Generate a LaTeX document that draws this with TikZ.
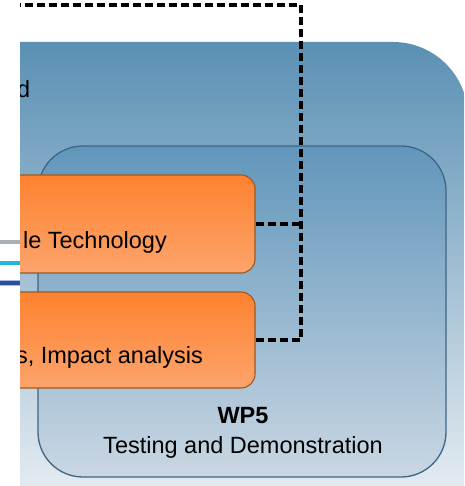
\documentclass[tikz,border=0pt]{standalone}
\usepackage{fontspec}
\setmainfont{Liberation Sans}
\usetikzlibrary{positioning}
\definecolor{wptop}{HTML}{5A90B4}
\definecolor{wpbottom}{HTML}{F4F6F8}
\definecolor{wpinnertop}{HTML}{6196BB}
\definecolor{wpinnerbottom}{HTML}{CAD7E3}
\definecolor{wpedge}{HTML}{3F6584}
\definecolor{tasktop}{HTML}{FE822F}
\definecolor{taskbottom}{HTML}{FDA46C}
\definecolor{taskedge}{HTML}{9A5A20}
\definecolor{linkgrey}{HTML}{A9B0B5}
\definecolor{linkcyan}{HTML}{22B5E0}
\definecolor{linkblue}{HTML}{2B4EA0}

\begin{document}
\begin{tikzpicture}[
    x=1pt, y=-1pt,
    outerbox/.style={rounded corners=75pt, top color=wptop, bottom color=wpbottom, minimum width=528pt, minimum height=500pt, inner sep=0pt},
    wpbox/.style={draw=wpedge, line width=1.3pt, rounded corners=45pt, top color=wpinnertop, bottom color=wpinnerbottom, minimum width=408pt, minimum height=331pt, inner sep=0pt},
    task/.style={draw=taskedge, line width=1.1pt, rounded corners=14pt, top color=tasktop, bottom color=taskbottom, minimum width=355pt, inner sep=0pt},
    txt/.style={font=\fontsize{23.5}{30}\selectfont, inner sep=0pt},
    dashline/.style={line width=3.2pt, dash pattern=on 8pt off 4pt},
    link/.style={line width=3.5pt},
]
\useasboundingbox (0,0) rectangle (464,486);

% links coming in from the left
\coordinate (g0) at (0,242);  \coordinate (g1) at (40,242);
\coordinate (c0) at (0,263);  \coordinate (c1) at (40,263);
\coordinate (b0) at (0,283);  \coordinate (b1) at (40,283);
\draw[link, linkgrey] (g0) -- (g1);
\draw[link, white, line width=6pt] (c0) -- (c1);
\draw[link, linkcyan] (c0) -- (c1);
\draw[link, linkblue!40, line width=6pt] (b0) -- (b1);
\draw[link, linkblue] (b0) -- (b1);

\begin{scope}
\clip (20,0) rectangle (464,486);

% boxes
\node[outerbox] (wp) at (204,292) {};
\node[wpbox] (wp5) at (242,311.5) {};
\node[task, minimum height=98pt] (tech) at (77.5,224) {};
\node[task, minimum height=96pt] (impact) at (77.5,340) {};

% texts
\node[txt, anchor=base east] (wplabel) at (30.5,98) {d};
\node[txt, anchor=base east] (techlabel) at (167,248) {le Technology};
\node[txt, anchor=base east] (impactlabel) at (203,363) {s, Impact analysis};
\node[txt, anchor=base, font=\fontsize{23.5}{30}\selectfont\bfseries] (wp5num) at (243,423) {WP5};
\node[txt, anchor=base] (wp5name) at (243,453) {Testing and Demonstration};

% dashed links
\coordinate (jn) at (301,5);
\coordinate (top) at (0,5);
\draw[dashline] (impact.east) -| (jn) -- (top);
\draw[dashline] (tech.east) -- (tech.east -| jn);
\end{scope}
\end{tikzpicture}
\end{document}
